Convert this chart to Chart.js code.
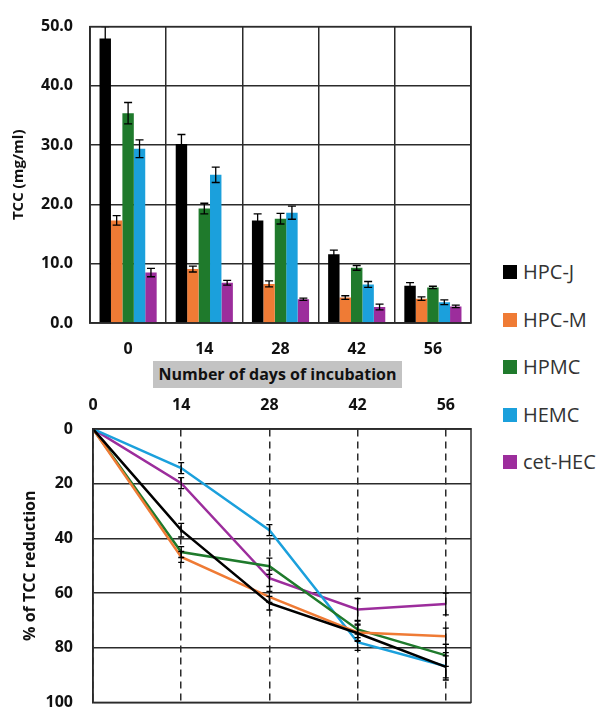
<!DOCTYPE html>
<html>
<head>
<meta charset="utf-8">
<script src="https://cdn.jsdelivr.net/npm/chart.js@4.4.1/dist/chart.umd.min.js"></script>
<style>
  html, body { margin: 0; padding: 0; background: #fff; }
  body { width: 606px; height: 708px; overflow: hidden; position: relative; font-family: 'Open Sans', sans-serif; }
  #topWrap { position: absolute; left: 0; top: 0; }
  #bottomWrap { position: absolute; left: 0; top: 390px; }
  .x-title {
    position: absolute; left: 153px; top: 361px; width: 249px; height: 27px;
    background: #c3c3c3; color: #111; font-weight: bold; font-size: 16px;
    line-height: 27px; text-align: center; white-space: nowrap;
  }
  #legend { position: absolute; left: 503px; top: 259px; margin: 0; padding: 0; list-style: none; }
  #legend li { height: 47.5px; display: flex; align-items: flex-start; font-size: 20px; color: #333; line-height: 26px; }
  #legend span.box { display: inline-block; width: 14px; height: 14px; margin: 6px 6px 0 0; }
</style>
</head>
<body>
<div id="topWrap"><canvas id="tccChart" width="480" height="368"></canvas></div>
<div class="x-title">Number of days of incubation</div>
<div id="bottomWrap"><canvas id="reductionChart" width="480" height="342"></canvas></div>
<ul id="legend"></ul>

<script>
/*=============== DATA ===============*/
const days = [0, 14, 28, 42, 56]
const seriesNames = ['HPC-J', 'HPC-M', 'HPMC', 'HEMC', 'cet-HEC']
const colors = ['#000000', '#ef7b35', '#1f7a2c', '#1ba0dc', '#9c2d9c']

// TCC (mg/ml) per day, with error bars
const tccHpcJ   = [48.0, 30.2, 17.3, 11.6, 6.3]
const tccHpcM   = [17.3, 9.1, 6.6, 4.3, 4.1]
const tccHpmc   = [35.4, 19.3, 17.6, 9.3, 6.0]
const tccHemc   = [29.4, 25.0, 18.6, 6.5, 3.5]
const tccCetHec = [8.5, 6.8, 4.0, 2.7, 2.8]

const tccErrHpcJ   = [2.0, 1.6, 1.1, 0.7, 0.5]
const tccErrHpcM   = [0.8, 0.5, 0.5, 0.3, 0.3]
const tccErrHpmc   = [1.8, 0.9, 0.9, 0.4, 0.2]
const tccErrHemc   = [1.5, 1.3, 1.1, 0.5, 0.4]
const tccErrCetHec = [0.7, 0.4, 0.2, 0.5, 0.2]

// % of TCC reduction per day, with error bars
const redHpcJ   = [0, 37.0, 63.7, 74.7, 87.0]
const redHpcM   = [0, 46.8, 61.4, 74.4, 75.8]
const redHpmc   = [0, 45.0, 50.2, 73.3, 82.8]
const redHemc   = [0, 14.3, 37.0, 78.0, 86.8]
const redCetHec = [0, 19.8, 54.6, 66.0, 64.0]

const redErrHpcJ   = [0, 2.5, 2.5, 3, 4]
const redErrHpcM   = [0, 2, 2, 3, 3]
const redErrHpmc   = [0, 2, 3, 3, 4]
const redErrHemc   = [0, 2, 2, 3, 5]
const redErrCetHec = [0, 2, 3, 4, 4]

const tccTicks = [0, 10, 20, 30, 40, 50]
const reductionTicks = [0, 20, 40, 60, 80, 100]

const tccSeries = [tccHpcJ, tccHpcM, tccHpmc, tccHemc, tccCetHec]
const tccErrors = [tccErrHpcJ, tccErrHpcM, tccErrHpmc, tccErrHemc, tccErrCetHec]
const redSeries = [redHpcJ, redHpcM, redHpmc, redHemc, redCetHec]
const redErrors = [redErrHpcJ, redErrHpcM, redErrHpmc, redErrHemc, redErrCetHec]

/*=============== PLUGINS ===============*/
// Draw error bars at every data element, using the chart's y scale
const errorBars = {
  id: 'errorBars',
  afterDatasetsDraw(chart, args, opts) {
    const ctx = chart.ctx
    const yScale = chart.scales.y
    chart.data.datasets.forEach((ds, i) => {
      if (!ds.errors) return
      const meta = chart.getDatasetMeta(i)
      meta.data.forEach((el, j) => {
        const err = ds.errors[j]
        if (!err) return
        const v = chart.data.datasets[i].data[j]
        const val = typeof v === 'object' ? v.y : v
        const top = yScale.getPixelForValue(val + err)
        const bot = yScale.getPixelForValue(val - err)
        const cap = opts.cap || 4
        ctx.save()
        ctx.strokeStyle = '#000'
        ctx.lineWidth = 1.3
        ctx.beginPath()
        ctx.moveTo(el.x, top); ctx.lineTo(el.x, bot)
        ctx.moveTo(el.x - cap, top); ctx.lineTo(el.x + cap, top)
        ctx.moveTo(el.x - cap, bot); ctx.lineTo(el.x + cap, bot)
        ctx.stroke()
        ctx.restore()
      })
    })
  }
}

// Frame around the plot area
const frame = {
  id: 'frame',
  afterDraw(chart) {
    const {ctx, chartArea: a} = chart
    ctx.save()
    ctx.strokeStyle = '#2b2b2b'
    ctx.lineWidth = 1.5
    ctx.strokeRect(a.left, a.top, a.right - a.left, a.bottom - a.top)
    ctx.restore()
  }
}

const tickFont = { family: "'Open Sans'", size: 16, weight: 'bold' }

/*=============== TCC BAR CHART ===============*/
new Chart(document.getElementById('tccChart'), {
  type: 'bar',
  data: {
    labels: days.map(String),
    datasets: seriesNames.map((name, i) => ({
      label: name,
      data: tccSeries[i],
      errors: tccErrors[i],
      backgroundColor: colors[i],
      categoryPercentage: 0.75,
      barPercentage: 1.0
    }))
  },
  options: {
    responsive: false,
    animation: false,
    layout: { padding: { top: 22, right: 9, left: 0, bottom: 0 } },
    plugins: { legend: { display: false }, tooltip: { enabled: false }, errorBars: { cap: 4 } },
    scales: {
      x: {
        afterFit: (s) => { s.height = 45 },
        grid: { color: '#2b2b2b', lineWidth: 1.5, drawTicks: false, offset: true },
        border: { color: '#2b2b2b', width: 1.5 },
        ticks: { font: tickFont, color: '#111', padding: 17 }
      },
      y: {
        min: 0, max: 50,
        afterFit: (s) => { s.width = 90 },
        afterBuildTicks: (s) => { s.ticks = tccTicks.map(v => ({ value: v })) },
        grid: { color: '#2b2b2b', lineWidth: 1.5, drawTicks: false },
        border: { color: '#2b2b2b', width: 1.5 },
        ticks: { font: tickFont, color: '#111', padding: 17, callback: v => v.toFixed(1) },
        title: { display: true, text: 'TCC (mg/ml)', font: { family: "'Open Sans'", size: 15, weight: 'bold' }, color: '#111', padding: { top: 10, bottom: 0 } }
      }
    }
  },
  plugins: [errorBars, frame]
})

/*=============== % REDUCTION LINE CHART ===============*/
new Chart(document.getElementById('reductionChart'), {
  type: 'line',
  data: {
    datasets: seriesNames.map((name, i) => ({
      label: name,
      data: days.map((d, j) => ({ x: d, y: redSeries[i][j] })),
      errors: redErrors[i],
      borderColor: colors[i],
      backgroundColor: colors[i],
      borderWidth: 2.5,
      pointRadius: 0,
      tension: 0
    }))
  },
  options: {
    responsive: false,
    animation: false,
    layout: { padding: { top: 0, right: 9, left: 0, bottom: 6 } },
    plugins: { legend: { display: false }, tooltip: { enabled: false }, errorBars: { cap: 3 } },
    scales: {
      x: {
        type: 'linear',
        position: 'top',
        min: 0, max: 60,
        afterFit: (s) => { s.height = 39 },
        afterBuildTicks: (s) => { s.ticks = days.map(v => ({ value: v })) },
        grid: { color: '#2b2b2b', lineWidth: 1.5, drawTicks: false },
        border: { color: '#2b2b2b', width: 1.5, dash: [7, 5] },
        ticks: { font: tickFont, color: '#111', padding: 14 }
      },
      y: {
        reverse: true,
        min: 0, max: 100,
        afterFit: (s) => { s.width = 93 },
        afterBuildTicks: (s) => { s.ticks = reductionTicks.map(v => ({ value: v })) },
        grid: { color: '#2b2b2b', lineWidth: 1.5, drawTicks: false },
        border: { color: '#2b2b2b', width: 1.5 },
        ticks: { font: tickFont, color: '#111', padding: 20 },
        title: { display: true, text: '% of TCC reduction', font: { family: "'Open Sans'", size: 16, weight: 'bold' }, color: '#111', padding: { top: 21, bottom: 0 } }
      }
    }
  },
  plugins: [errorBars, frame]
})

/*=============== LEGEND ===============*/
const legend = document.getElementById('legend')
seriesNames.forEach((name, i) => {
  const li = document.createElement('li')
  li.innerHTML = `<span class="box" style="background:${colors[i]}"></span>${name}`
  legend.appendChild(li)
})
</script>
</body>
</html>
